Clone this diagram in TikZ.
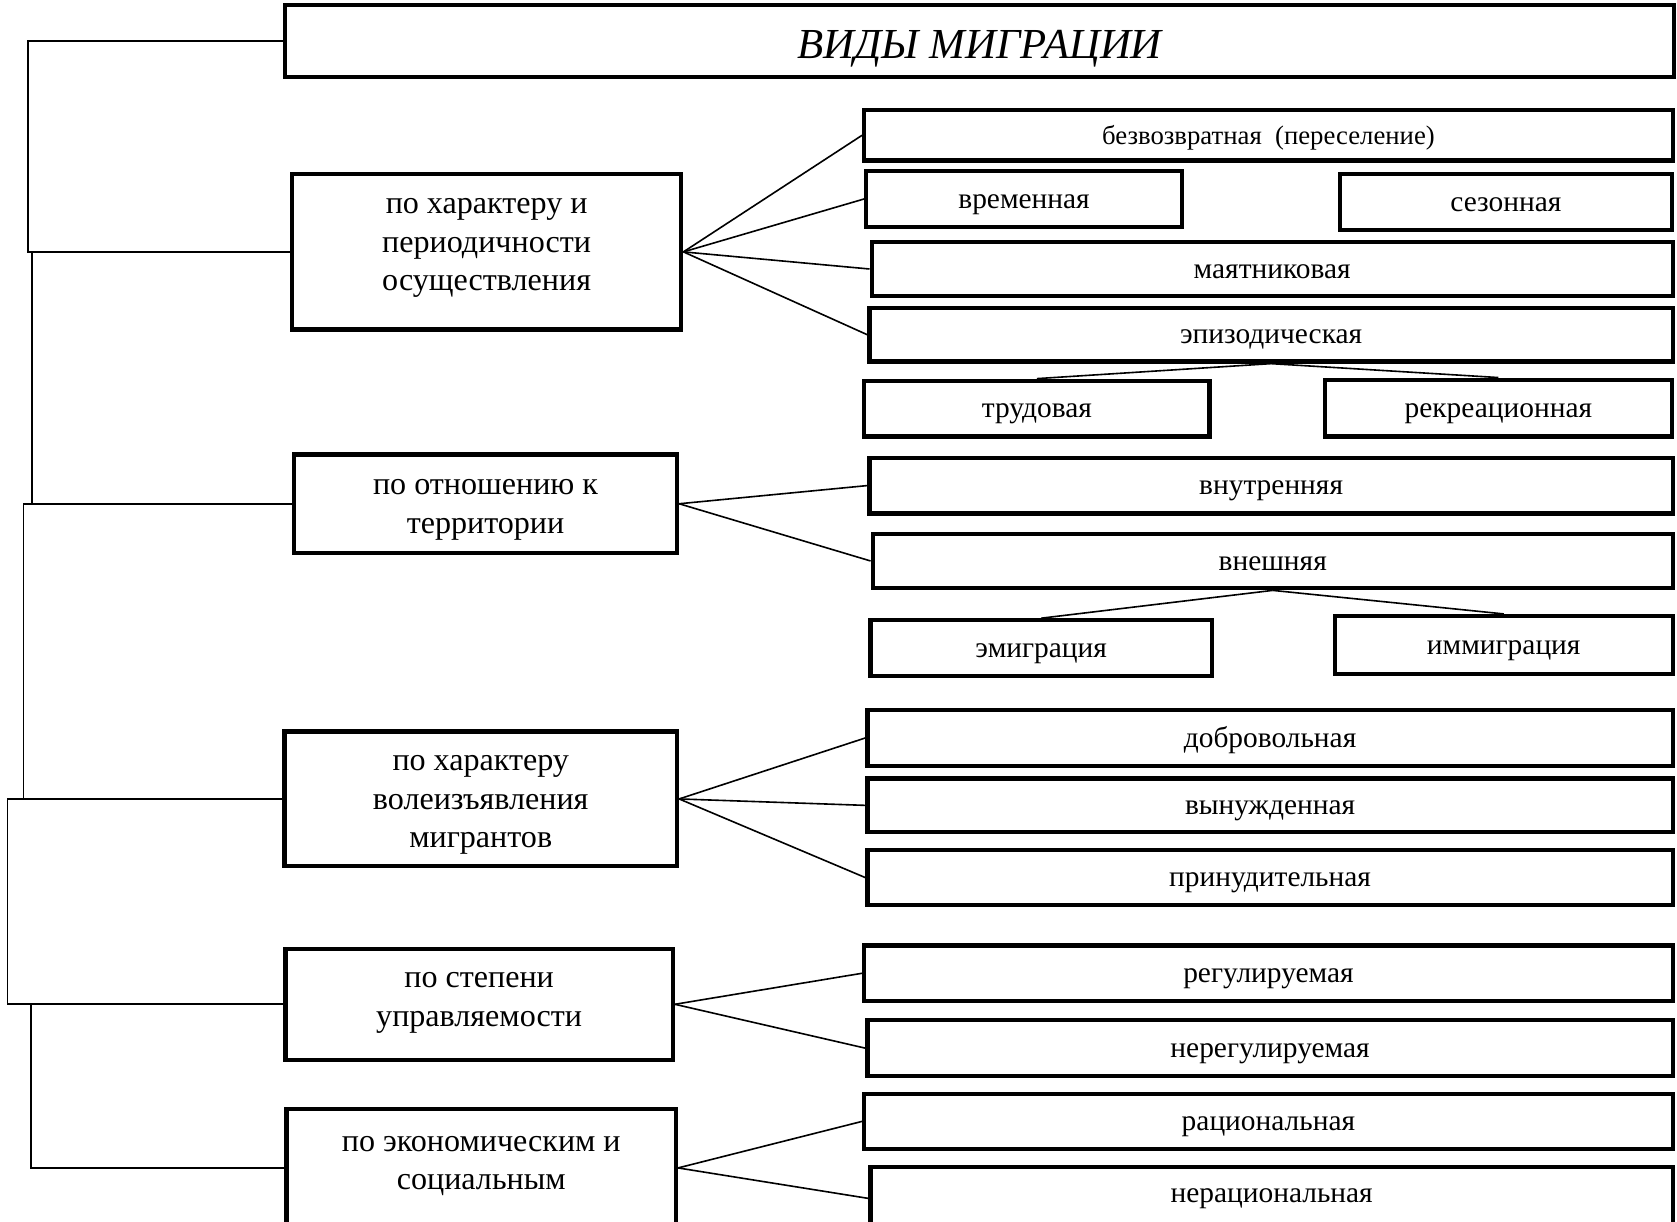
\documentclass[tikz,border=0pt]{standalone}
\usepackage{fontspec}
\setmainfont{Liberation Serif}
\usepackage{tikz}

% lines of a left box, raised by #1
\newcommand{\catlines}[2]{\raisebox{#1}[\height][\depth]{\begin{tabular}{@{}c@{}}#2\end{tabular}}}

\begin{document}
\begin{tikzpicture}[x=0.4pt, y=-0.4pt,
    box/.style={draw, line width=1.6pt, inner sep=2pt, text height=8.4pt, text depth=1.6pt, font=\fontsize{11}{13}\selectfont},
    catbox/.style={draw, line width=1.6pt, inner sep=0pt, font=\fontsize{12}{14.4}\selectfont},
    link/.style={line width=0.6pt}]
            \useasboundingbox (0,0) rectangle (1568,1142);

            \node[box, minimum width=519.6pt, minimum height=26.8pt, text height=13.6pt, text depth=0.6pt, font=\fontsize{16}{19}\selectfont\itshape] (title) at (916,38.5) {ВИДЫ МИГРАЦИИ};

            % left column
            \node[catbox, minimum width=145.6pt, minimum height=58pt] (A) at (455,235.5) {\catlines{2.7pt}{по характеру и\\периодичности\\осуществления}};
            \node[catbox, minimum width=143.2pt, minimum height=36.8pt] (B) at (454,471) {\catlines{-0.9pt}{по отношению к\\территории}};
            \node[catbox, minimum width=146.8pt, minimum height=50.4pt] (C) at (449.5,747) {\catlines{-0.9pt}{по характеру\\волеизъявления\\мигрантов}};
            \node[catbox, minimum width=144.8pt, minimum height=41.6pt] (D) at (448,939) {\catlines{1.9pt}{по степени\\управляемости}};
            \node[catbox, minimum width=145.6pt, minimum height=44pt] (E) at (450,1092) {\catlines{1.9pt}{по экономическим и\\социальным}};

            % right column
            \node[box, minimum width=302.4pt, minimum height=18.8pt, font=\fontsize{10}{12}\selectfont] (r1) at (1186,126.5) {безвозвратная\ \ (переселение)};
            \node[box, minimum width=118pt, minimum height=20.8pt] (r2) at (957.5,186) {временная};
            \node[box, minimum width=124pt, minimum height=20.8pt] (r3) at (1408,189) {сезонная};
            \node[box, minimum width=299.6pt, minimum height=20.4pt] (r4) at (1189.5,251.5) {маятниковая};
            \node[box, minimum width=300.4pt, minimum height=20pt] (r5) at (1188.5,313) {эпизодическая};
            \node[box, minimum width=129.2pt, minimum height=20.8pt] (r6) at (969.5,382) {трудовая};
            \node[box, minimum width=129.6pt, minimum height=21.2pt] (r7) at (1401,381.5) {рекреационная};
            \node[box, minimum width=300.4pt, minimum height=20.8pt] (r8) at (1188.5,454) {внутренняя};
            \node[box, minimum width=299.2pt, minimum height=20.4pt] (r9) at (1190,524.5) {внешняя};
            \node[box, minimum width=127.6pt, minimum height=20.8pt] (r10) at (973.5,606) {эмиграция};
            \node[box, minimum width=126.4pt, minimum height=21.6pt] (r11) at (1406,603) {иммиграция};
            \node[box, minimum width=301.2pt, minimum height=20.8pt] (r12) at (1187.5,690) {добровольная};
            \node[box, minimum width=301.2pt, minimum height=20pt] (r13) at (1187.5,753) {вынужденная};
            \node[box, minimum width=301.2pt, minimum height=20.4pt] (r14) at (1187.5,820.5) {принудительная};
            \node[box, minimum width=302.4pt, minimum height=20.8pt] (r15) at (1186,910) {регулируемая};
            \node[box, minimum width=301.2pt, minimum height=20.8pt] (r16) at (1187.5,980) {нерегулируемая};
            \node[box, minimum width=302.4pt, minimum height=20.4pt] (r17) at (1186,1048.5) {рациональная};
            \node[box, minimum width=300pt, minimum height=23.6pt, text height=5.6pt, text depth=2.6pt] (r18) at (1189,1120.5) {нерациональная};

            % left bracket
            \coordinate (k1) at (26,0);
            \coordinate (k2) at (30,0);
            \coordinate (k3) at (22,0);
            \coordinate (k4) at (7,0);
            \coordinate (k5) at (29,0);
            \draw[link] (title.west) -| (k1 |- A.west) -- (A.west);
            \draw[link] (k2 |- A.west) -- (k2 |- B.west);
            \draw[link] (B.west) -| (k3 |- C.west);
            \draw[link] (C.west) -| (k4 |- D.west) -- (D.west);
            \draw[link] (k5 |- D.west) |- (E.west);

            % fans
            \foreach \t in {r1,r2,r4,r5} \draw[link] (A.east) -- (\t.west);
            \foreach \t in {r8,r9} \draw[link] (B.east) -- (\t.west);
            \foreach \t in {r12,r13,r14} \draw[link] (C.east) -- (\t.west);
            \foreach \t in {r15,r16} \draw[link] (D.east) -- (\t.west);
            \foreach \t in {r17,r18} \draw[link] (E.east) -- (\t.west);
            \foreach \t in {r6,r7} \draw[link] (r5.south) -- (\t.north);
            \foreach \t in {r10,r11} \draw[link] (r9.south) -- (\t.north);
        \end{tikzpicture}
\end{document}
